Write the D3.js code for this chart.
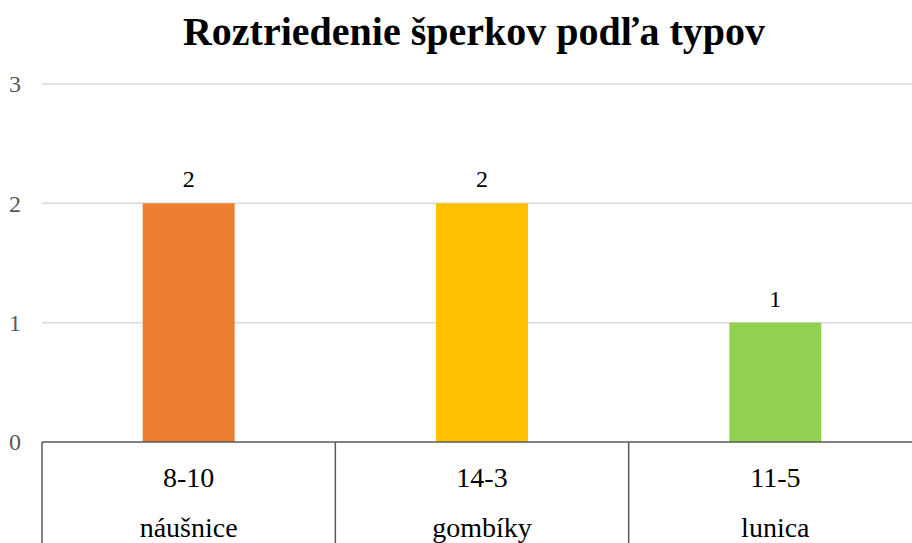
<!DOCTYPE html>
<html>
<head>
<meta charset="utf-8">
<script src="https://cdn.jsdelivr.net/npm/d3@7"></script>
<style>
  html, body { margin: 0; padding: 0; background: #fff; overflow: hidden; }
</style>
</head>
<body>
<div id="chart"></div>
<script>
const codes    = ["8-10", "14-3", "11-5"];
const types    = ["náušnice", "gombíky", "lunica"];
const counts   = [2, 2, 1];
const colors   = ["#ED7D31", "#FFC000", "#92D050"];
const yTicks   = [0, 1, 2, 3];
const title    = "Roztriedenie šperkov podľa typov";

const serif = "'Liberation Serif', 'Times New Roman', 'DejaVu Serif', serif";

const width  = 912;
const height = 543;
const margin = { top: 84, right: -10, bottom: 101, left: 42 };
const innerWidth  = width  - margin.left - margin.right;
const innerHeight = height - margin.top  - margin.bottom;

const svg = d3.select("#chart")
  .append("svg")
  .attr("width", width)
  .attr("height", height)
  .attr("font-family", serif);

svg.append("text")
  .attr("x", 474)
  .attr("y", 45)
  .attr("text-anchor", "middle")
  .attr("font-family", serif)
  .style("font-size", "40px")
  .style("font-weight", "bold")
  .text(title);

const innerChart = svg.append("g")
  .attr("transform", `translate(${margin.left}, ${margin.top})`);

const xScale = d3.scaleBand()
  .domain(codes)
  .range([0, innerWidth])
  .padding(0);

const yScale = d3.scaleLinear()
  .domain([0, 3])
  .range([innerHeight, 0]);

// gridlines
innerChart.selectAll(".grid")
  .data(yTicks.filter(d => d > 0))
  .join("line")
    .attr("class", "grid")
    .attr("x1", 0)
    .attr("x2", innerWidth)
    .attr("y1", d => yScale(d))
    .attr("y2", d => yScale(d))
    .attr("stroke", "#d9d9d9")
    .attr("stroke-width", 1.5);

// y tick labels
innerChart.selectAll(".ytick")
  .data(yTicks)
  .join("text")
    .attr("class", "ytick")
    .attr("x", -21)
    .attr("y", d => yScale(d))
    .attr("dy", "0.35em")
    .attr("text-anchor", "end")
    .attr("fill", "#595959")
    .attr("font-family", serif)
    .style("font-size", "24px")
    .text(d => d);

// bars
const barWidth = xScale.bandwidth() * 0.3135;
innerChart.selectAll("rect")
  .data(counts)
  .join("rect")
    .attr("x", (d, i) => xScale(codes[i]) + xScale.bandwidth() / 2 - barWidth / 2)
    .attr("y", d => yScale(d))
    .attr("width", barWidth)
    .attr("height", d => innerHeight - yScale(d))
    .attr("fill", (d, i) => colors[i]);

// value labels
innerChart.selectAll(".val")
  .data(counts)
  .join("text")
    .attr("class", "val")
    .attr("x", (d, i) => xScale(codes[i]) + xScale.bandwidth() / 2)
    .attr("y", d => yScale(d) - 16)
    .attr("text-anchor", "middle")
    .attr("font-family", serif)
    .style("font-size", "24px")
    .text(d => d);

// multi-level category axis
const axis = innerChart.append("g")
  .attr("transform", `translate(0, ${innerHeight})`);

axis.append("line")
  .attr("x1", 0)
  .attr("x2", innerWidth)
  .attr("stroke", "#595959")
  .attr("stroke-width", 1.5);

const edges = codes.map(c => xScale(c)).concat([innerWidth]);
axis.selectAll(".sep")
  .data(edges)
  .join("line")
    .attr("class", "sep")
    .attr("x1", d => d)
    .attr("x2", d => d)
    .attr("y1", 0)
    .attr("y2", margin.bottom)
    .attr("stroke", "#595959")
    .attr("stroke-width", 1.5);

axis.selectAll(".code")
  .data(codes)
  .join("text")
    .attr("class", "code")
    .attr("x", d => xScale(d) + xScale.bandwidth() / 2)
    .attr("y", 45)
    .attr("text-anchor", "middle")
    .attr("font-family", serif)
    .style("font-size", "28px")
    .text(d => d);

axis.selectAll(".type")
  .data(types)
  .join("text")
    .attr("class", "type")
    .attr("x", (d, i) => xScale(codes[i]) + xScale.bandwidth() / 2)
    .attr("y", 95)
    .attr("text-anchor", "middle")
    .attr("font-family", serif)
    .style("font-size", "28px")
    .text(d => d);
</script>
</body>
</html>
